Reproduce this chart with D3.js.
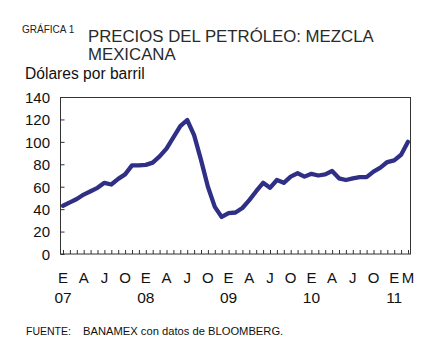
<!DOCTYPE html>
<html>
<head>
<meta charset="utf-8">
<script src="https://cdn.jsdelivr.net/npm/d3@7"></script>
<style>
  html, body { margin: 0; padding: 0; background: #fff; }
  svg { display: block; font-family: "Liberation Sans", Arial, sans-serif; }
</style>
</head>
<body>
<svg id="chart" width="431" height="356"></svg>
<script>
// Monthly average price, US$ per barrel, Jan 2007 – Mar 2011
const years = [2007, 2008, 2009, 2010, 2011];
const monthLetters = ["E", "F", "M", "A", "M", "J", "J", "A", "S", "O", "N", "D"];
const prices2007 = [43, 46, 49, 53, 56, 59, 63.5, 62, 67, 71, 79, 79];
const prices2008 = [79.5, 81.5, 87, 94, 104, 114, 119.5, 106, 84, 60, 42, 33];
const prices2009 = [36.5, 37, 41, 48, 56, 63.5, 59, 66, 63.5, 69, 72, 69];
const prices2010 = [71.5, 70, 71, 74, 67.5, 66, 67.5, 68.5, 68.5, 73.5, 77, 82];
const prices2011 = [83.5, 88.5, 100];
const yTicks = [0, 20, 40, 60, 80, 100, 120, 140];
// month indices (from Jan 2007) that receive a letter label
const labelMonths = [0, 3, 6, 9, 12, 15, 18, 21, 24, 27, 30, 33, 36, 39, 42, 45, 48, 50];
const yearLabels = ["07", "08", "09", "10", "11"];

const values = [...prices2007, ...prices2008, ...prices2009, ...prices2010, ...prices2011];
const data = values.map((v, i) => ({ i, v }));

const svg = d3.select("#chart");
const box = { left: 60.5, right: 410.5, top: 97, bottom: 254 };

const x = d3.scaleLinear().domain([0, values.length - 1]).range([63, 408]);
const y = d3.scaleLinear().domain([0, 140]).range([box.bottom, box.top]);

// Titles
svg.append("text").attr("x", 22).attr("y", 33).attr("font-size", 10).attr("fill", "#222")
  .text("GRÁFICA 1");
svg.append("text").attr("x", 88).attr("y", 42).attr("font-size", 16.8).attr("fill", "#2a2a2a")
  .text("PRECIOS DEL PETRÓLEO: MEZCLA");
svg.append("text").attr("x", 88).attr("y", 60).attr("font-size", 16.8).attr("fill", "#2a2a2a")
  .text("MEXICANA");
svg.append("text").attr("x", 25).attr("y", 79).attr("font-size", 15.6).attr("fill", "#111")
  .text("Dólares por barril");

// Frame
svg.append("rect")
  .attr("x", box.left).attr("y", box.top + 0.5)
  .attr("width", box.right - box.left).attr("height", box.bottom - box.top - 0.5)
  .attr("fill", "none").attr("stroke", "#333").attr("stroke-width", 1);

// Y axis (ticks inward, labels left)
const yAxis = d3.axisLeft(y).tickValues(yTicks).tickSize(-4).tickPadding(10);
const gy = svg.append("g").attr("transform", `translate(${box.left},0)`).call(yAxis);
gy.select(".domain").remove();
gy.selectAll(".tick line").attr("stroke", "#333");
gy.selectAll(".tick text").attr("font-size", 15).attr("fill", "#111")
  .attr("font-family", "Liberation Sans, Arial, sans-serif")
  .attr("x", 50 - box.left).attr("dy", "0.36em");

// X axis: month ticks inward
const monthIdx = d3.range(values.length);
const xAxis = d3.axisBottom(x).tickValues(monthIdx).tickSize(-4).tickFormat("");
const gx = svg.append("g").attr("transform", `translate(0,${box.bottom})`).call(xAxis);
gx.select(".domain").remove();
gx.selectAll(".tick line").attr("stroke", "#333");

// Month letters
svg.append("g").selectAll("text").data(labelMonths).join("text")
  .attr("x", d => x(d)).attr("y", 283).attr("text-anchor", "middle")
  .attr("font-size", 15).attr("fill", "#111")
  .text(d => monthLetters[d % 12]);

// Year labels under January
svg.append("g").selectAll("text").data(years).join("text")
  .attr("x", (d, k) => x(k * 12)).attr("y", 303).attr("text-anchor", "middle")
  .attr("font-size", 15.5).attr("fill", "#111")
  .text((d, k) => yearLabels[k]);

// Line
const line = d3.line().x(d => x(d.i)).y(d => y(d.v)).curve(d3.curveLinear);
svg.append("path").datum(data)
  .attr("d", line).attr("fill", "none")
  .attr("stroke", "#2f2f86").attr("stroke-width", 4.3)
  .attr("stroke-linejoin", "round").attr("stroke-linecap", "round");

// Footer
svg.append("text").attr("x", 26).attr("y", 335).attr("font-size", 10.5).attr("fill", "#111")
  .text("FUENTE:");
svg.append("text").attr("x", 83).attr("y", 335).attr("font-size", 11.2).attr("fill", "#111")
  .text("BANAMEX con datos de BLOOMBERG.");
</script>
</body>
</html>
